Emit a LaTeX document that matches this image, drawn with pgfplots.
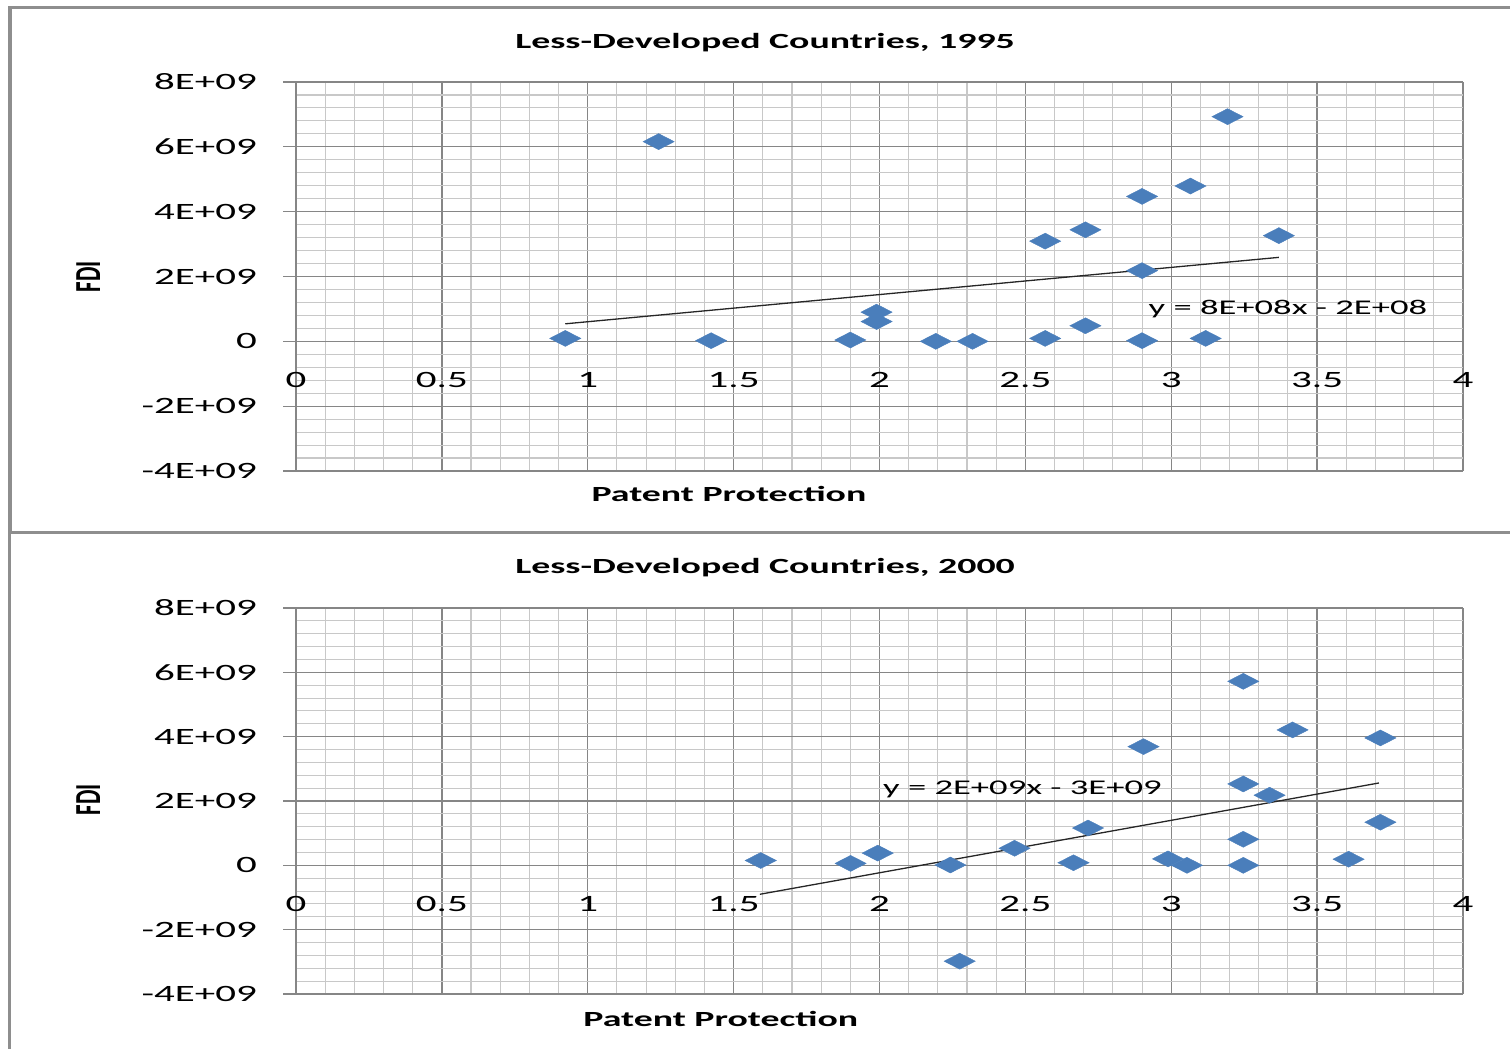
\documentclass[border=0pt]{standalone}
\usepackage{pgfplots}
\pgfplotsset{compat=1.18}
\usepackage{fontspec}
\setmainfont{Carlito}[FakeStretch=1.75]
\newfontfamily\plainfont{Carlito}

\definecolor{ptblue}{HTML}{4A7EBB}
\definecolor{gmaj}{HTML}{868686}
\definecolor{gmin}{HTML}{C8C8C8}
\definecolor{framegray}{HTML}{8E8E8E}

\pgfplotsset{
  ldc/.style={
    scale only axis,
    width=1167bp,
    xmin=0, xmax=4,
    ymin=-4e9, ymax=8e9,
    xtick={0,0.5,1,1.5,2,2.5,3,3.5,4},
    xticklabels={0,0.5,1,1.5,2,2.5,3,3.5,4},
    ytick={-4e9,-2e9,0,2e9,4e9,6e9,8e9},
    yticklabels={-4E+09,-2E+09,0,2E+09,4E+09,6E+09,8E+09},
    scaled y ticks=false,
    minor x tick num=4,
    minor y tick num=4,
    grid=both,
    major grid style={line width=1.3bp, gmaj},
    minor grid style={line width=1.1bp, gmin},
    axis x line*=middle,
    axis y line*=left,
    hide obscured x ticks=false,
    hide obscured y ticks=false,
    axis line style={gmaj, line width=1.3bp, -},
    tick align=outside,
    major tick length=13bp,
    xtick style={draw=none},
    ytick style={gmaj, line width=1.3bp},
    minor tick style={draw=none},
    tick label style={font=\fontsize{23.5}{25}\selectfont, inner sep=0pt},
    xticklabel style={anchor=north, yshift=-18bp},
    yticklabel style={anchor=east, xshift=-26bp},
    title style={font=\fontsize{21.7}{24}\selectfont\bfseries, anchor=center},
    xlabel style={font=\fontsize{21.7}{24}\selectfont\bfseries, anchor=center},
    every axis y label/.style={rotate=90, yscale=1.6, anchor=center,
      font=\plainfont\fontsize{23}{25}\selectfont\bfseries},
    xlabel={Patent Protection},
    ylabel={FDI},
  },
  pts/.style={only marks, mark=diamond*, mark size=8bp,
    mark options={xscale=2.6, fill=ptblue, draw=ptblue, line width=0.4bp}},
  trend/.style={no marks, line width=1.3bp, black!85},
}

\begin{document}
\begin{tikzpicture}
\path[use as bounding box] (0bp,0bp) rectangle (1510bp,1049bp);

% panel frames
\draw[framegray, line width=3.5bp] (10bp,516bp) -- (10bp,1041.5bp) -- (1520bp,1041.5bp);
\draw[framegray, line width=3bp] (8bp,516bp) -- (1520bp,516bp);
\draw[framegray, line width=3.5bp] (9.5bp,-5bp) -- (9.5bp,516bp);

% 1995
\begin{axis}[ldc, at={(296bp,578bp)}, anchor=south west, height=389bp,
  title={Less-Developed Countries, 1995},
  title style={at={(axis description cs:0.402,1.085)}},
  xlabel style={at={(axis description cs:0.371,-0.059)}},
  every axis y label/.append style={at={(axis description cs:-0.178,0.499)}},
]
\addplot[pts] coordinates {
  (0.923,0.09e9) (1.243,6.16e9) (1.423,0.02e9) (1.900,0.04e9)
  (1.990,0.90e9) (1.990,0.61e9) (2.193,0.00e9) (2.319,0.00e9)
  (2.568,3.09e9) (2.568,0.09e9) (2.706,3.44e9) (2.706,0.48e9)
  (2.900,4.47e9) (2.900,2.18e9) (2.900,0.02e9) (3.066,4.79e9)
  (3.118,0.09e9) (3.193,6.93e9) (3.369,3.26e9)
};
\addplot[trend] coordinates {(0.923,0.54e9) (3.369,2.59e9)};
\node[font=\fontsize{21}{23}\selectfont] at (axis cs:3.40,0.99e9) {y = 8E+08x - 2E+08};
\end{axis}

% 2000
\begin{axis}[ldc, at={(296bp,55bp)}, anchor=south west, height=386bp,
  title={Less-Developed Countries, 2000},
  title style={at={(axis description cs:0.402,1.090)}},
  xlabel style={at={(axis description cs:0.364,-0.065)}},
  every axis y label/.append style={at={(axis description cs:-0.178,0.503)}},
]
\addplot[pts] coordinates {
  (1.593,0.15e9) (1.901,0.06e9) (1.994,0.38e9) (2.243,0.01e9)
  (2.275,-2.98e9) (2.463,0.53e9) (2.665,0.08e9) (2.715,1.16e9)
  (2.905,3.69e9) (2.989,0.20e9) (3.054,0.00e9) (3.247,5.72e9)
  (3.247,2.53e9) (3.247,0.81e9) (3.247,0.00e9) (3.337,2.18e9)
  (3.416,4.21e9) (3.608,0.19e9) (3.717,3.96e9) (3.717,1.34e9)
};
\addplot[trend] coordinates {(1.590,-0.90e9) (3.712,2.56e9)};
\node[font=\fontsize{21}{23}\selectfont] at (axis cs:2.49,2.37e9) {y = 2E+09x - 3E+09};
\end{axis}
\end{tikzpicture}
\end{document}
